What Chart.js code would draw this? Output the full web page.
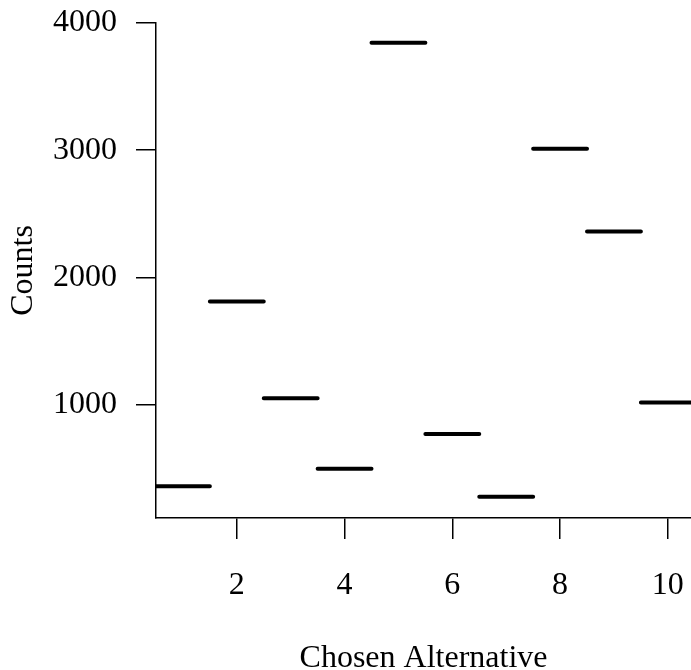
<!DOCTYPE html>
<html>
<head>
<meta charset="utf-8">
<script src="https://cdn.jsdelivr.net/npm/chart.js@4"></script>
<style>
  html, body { margin: 0; padding: 0; background: #fff; }
  #wrap { width: 691px; height: 670px; position: relative; }
</style>
</head>
<body>
<div id="wrap"><canvas id="c"></canvas></div>
<script>
// Counts of each chosen alternative
const alternatives = [1, 2, 3, 4, 5, 6, 7, 8, 9, 10];
const counts = [358, 1810, 1050, 496, 3845, 769, 276, 3012, 2361, 1016];
const yTickValues = [1000, 2000, 3000, 4000];
const xTickValues = [2, 4, 6, 8, 10];

// Each count is drawn as a horizontal step spanning its alternative
const points = [];
alternatives.forEach((a, i) => {
  points.push({ x: a - 0.5, y: counts[i] });
  points.push({ x: a + 0.5, y: counts[i] });
  points.push({ x: a + 0.5, y: NaN });
});

const FONT = "'Liberation Serif', 'Times New Roman', serif";

// Keep the plot box fixed: no extra room reserved for overhanging tick labels
function noOverhang(s) {
  s.paddingTop = 0;
  s.paddingBottom = 0;
  s.paddingLeft = 0;
  s.paddingRight = 0;
}

new Chart(document.getElementById('c'), {
  type: 'line',
  data: {
    datasets: [{
      data: points,
      borderColor: '#000',
      borderWidth: 4,
      borderCapStyle: 'round',
      pointRadius: 0,
      spanGaps: false,
      tension: 0
    }]
  },
  options: {
    responsive: true,
    maintainAspectRatio: false,
    animation: false,
    events: [],
    layout: { padding: { top: 23, right: 0, left: 0, bottom: 0 } },
    plugins: { legend: { display: false }, tooltip: { enabled: false } },
    scales: {
      x: {
        type: 'linear',
        min: 0.5,
        max: 10.43,
        afterBuildTicks: s => { s.ticks = xTickValues.map(v => ({ value: v })); },
        afterFit: s => { s.height = 152; noOverhang(s); },
        grid: { drawOnChartArea: false, tickLength: 21, color: '#000', lineWidth: 1.5 },
        border: { display: true, color: '#000', width: 1.5 },
        ticks: { color: '#000', font: { family: FONT, size: 32 }, padding: 27, maxRotation: 0,
                 callback: v => String(v) },
        title: { display: true, text: 'Chosen Alternative', color: '#000',
                 font: { family: FONT, size: 32, lineHeight: 0.72 }, padding: { top: 0, bottom: 0 } }
      },
      y: {
        type: 'linear',
        min: 108.6,
        max: 4000,
        afterBuildTicks: s => { s.ticks = yTickValues.map(v => ({ value: v })); },
        afterFit: s => { s.width = 156; noOverhang(s); },
        grid: { drawOnChartArea: false, tickLength: 20, color: '#000', lineWidth: 1.5 },
        border: { display: true, color: '#000', width: 1.5 },
        ticks: { color: '#000', font: { family: FONT, size: 32 }, padding: 19,
                 callback: v => String(v) },
        title: { display: true, text: 'Counts', color: '#000',
                 font: { family: FONT, size: 32 }, padding: { top: 4, bottom: 0 } }
      }
    }
  }
});
</script>
</body>
</html>
